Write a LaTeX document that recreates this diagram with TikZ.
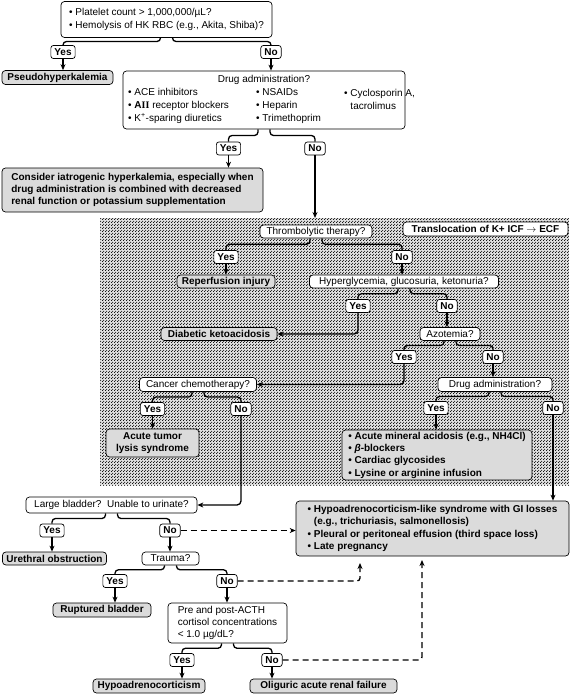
\documentclass[tikz,border=0pt]{standalone}
\usepackage{fontspec}
\setmainfont{Liberation Sans}
\newfontfamily\romanii{Liberation Serif}
\usetikzlibrary{arrows.meta,patterns,calc}
\pgfdeclarepatternformonly{finedots}{\pgfqpoint{0pt}{0pt}}{\pgfqpoint{3pt}{3pt}}{\pgfqpoint{3pt}{3pt}}{%
  \pgfpathcircle{\pgfqpoint{0.75pt}{0.75pt}}{0.68pt}%
  \pgfpathcircle{\pgfqpoint{2.25pt}{2.25pt}}{0.68pt}%
  \pgfusepath{fill}}
\newcommand\brnch[3]{\draw[branch] ([xshift=#3]#1.south) -- ([xshift=#3]$(#1.south)!.5!(#1.south|-#2.north)$) -| (#2.north);}
\newcommand\yarr[2]{\draw[arr] (#1.south) -- (#1.south|-#2.north);}
\begin{document}
\begin{tikzpicture}[x=1pt,y=-1pt,
  every node/.style={font=\fontsize{10}{12.3}\selectfont},
  qbox/.style={draw, line width=0.7pt, rounded corners=3.5pt, fill=white, inner xsep=4pt, inner ysep=1pt, minimum height=14pt},
  res/.style={qbox, fill=black!14, font=\fontsize{10}{12.3}\selectfont\bfseries},
  yn/.style={draw, line width=0.7pt, rounded corners=2.5pt, fill=white, inner xsep=3.5pt, inner ysep=0pt, minimum height=13pt, font=\fontsize{10}{12}\selectfont\bfseries},
  txt/.style={inner sep=0pt, align=left, font=\fontsize{10}{13}\selectfont},
  branch/.style={line width=1.3pt, rounded corners=3.5pt},
  arr/.style={line width=1.3pt, -{Stealth[length=6pt,width=5pt]}},
  dasharr/.style={arr, dash pattern=on 6pt off 4pt},
]
\useasboundingbox (0,0) rectangle (570,694);
\fill[black!12] (100,218) rectangle (569,485);
\fill[pattern=finedots] (100,218) rectangle (569,485);

% nodes
\node[qbox, minimum width=211pt, minimum height=36pt, align=left, font=\fontsize{10}{13}\selectfont] (q1) at (166.5,19.5) {\textbullet\ Platelet count > 1,000,000/µL?\\\textbullet\ Hemolysis of HK RBC (e.g., Akita, Shiba)?};
\node[yn] (y1) at (63,52) {Yes};
\node[yn] (n1) at (271,52) {No};
\node[res, minimum width=111pt, minimum height=14pt] (pseudo) at (57.5,77.5) {Pseudohyperkalemia};
\node[qbox, minimum width=282pt, minimum height=58pt] (drug) at (264,100) {};
\node[txt] (dt) at (264,80) {Drug administration?};
\node[txt, anchor=west] (dc1) at (128,106) {\textbullet\ ACE inhibitors\\\textbullet\ \textbf{A}{\romanii\bfseries II} receptor blockers\\\textbullet\ K\textsuperscript{+}-sparing diuretics};
\node[txt, anchor=west] (dc2) at (256,106) {\textbullet\ NSAIDs\\\textbullet\ Heparin\\\textbullet\ Trimethoprim};
\node[txt, anchor=west] (dc3) at (344,99.5) {\textbullet\ Cyclosporin A,\\\phantom{\textbullet\ }tacrolimus};
\node[yn] (y2) at (228.5,148.5) {Yes};
\node[yn] (n2) at (315,148.5) {No};
\node[res, minimum width=261pt, minimum height=44pt, align=left] (cons) at (132.5,190) {Consider iatrogenic hyperkalemia, especially when\\drug administration is combined with decreased\\renal function or potassium supplementation};
\coordinate (stop) at (315,218);

\node[qbox, minimum width=112pt, minimum height=13pt] (thr) at (316,231.5) {Thrombolytic therapy?};
\node[res, fill=white, minimum width=165pt] (trans) at (485.5,229) {Translocation of K+ ICF $\rightarrow$ ECF};
\node[yn] (y3) at (226,257) {Yes};
\node[yn] (n3) at (402,257) {No};
\node[res, minimum width=98pt, minimum height=13pt] (rep) at (226,281.5) {Reperfusion injury};
\node[qbox, minimum width=189pt, minimum height=13pt] (hyp) at (404,281.5) {Hyperglycemia, glucosuria, ketonuria?};
\node[yn] (y4) at (358,306) {Yes};
\node[yn] (n4) at (447,306) {No};
\node[res, minimum width=116pt, minimum height=13pt] (diab) at (219,334) {Diabetic ketoacidosis};
\node[qbox, minimum width=60pt, minimum height=13pt] (azo) at (450,334) {Azotemia?};
\node[yn] (y5) at (404,357) {Yes};
\node[yn] (n5) at (493,357) {No};
\node[qbox, minimum width=117pt] (canc) at (198,384.5) {Cancer chemotherapy?};
\node[qbox, minimum width=114pt] (drug2) at (495,384.5) {Drug administration?};
\node[yn] (y6) at (152.5,409) {Yes};
\node[yn] (n6) at (241,409) {No};
\node[res, minimum width=93pt, minimum height=28pt, align=center] (tumor) at (152.5,443) {Acute tumor\\lysis syndrome};
\node[yn] (y7) at (436,408) {Yes};
\node[yn] (n7) at (553,408) {No};
\node[res, minimum width=190pt, minimum height=50pt, align=left] (acid) at (437,455) {\textbullet\ Acute mineral acidosis (e.g., NH4Cl)\\\textbullet\ \textit{β}-blockers\\\textbullet\ Cardiac glycosides\\\textbullet\ Lysine or arginine infusion};

\node[res, minimum width=273pt, minimum height=55pt, align=left] (gi) at (432.5,528.5) {\textbullet\ Hypoadrenocorticism-like syndrome with GI losses\\\phantom{\textbullet\ }(e.g., trichuriasis, salmonellosis)\\\textbullet\ Pleural or peritoneal effusion (third space loss)\\\textbullet\ Late pregnancy};
\node[qbox, minimum width=171pt, minimum height=16pt] (blad) at (111.5,505) {Large bladder?~~Unable to urinate?};
\node[yn] (y8) at (52,530.5) {Yes};
\node[yn] (n8) at (170,530.5) {No};
\node[res, minimum width=103pt, minimum height=13pt] (ureth) at (54.5,558.5) {Urethral obstruction};
\node[qbox, minimum width=57pt, minimum height=13pt] (trau) at (170.5,558.5) {Trauma?};
\node[yn] (y9) at (115,581) {Yes};
\node[yn] (n9) at (227,581) {No};
\node[res, minimum width=98pt] (rupt) at (102,610) {Ruptured bladder};
\node[qbox, minimum width=119pt, minimum height=40pt, align=left] (acth) at (227.5,623) {Pre and post-ACTH\\cortisol concentrations\\< 1.0 µg/dL?};
\node[yn] (y10) at (182,660) {Yes};
\node[yn] (n10) at (272,660) {No};
\node[res, minimum width=112pt] (hadr) at (149,686) {Hypoadrenocorticism};
\node[res, minimum width=147pt] (olig) at (323.5,686) {Oliguric acute renal failure};
\coordinate (h1) at (360,563);
\coordinate (h2) at (422,560);

% connectors
\brnch{q1}{y1}{-6pt}\brnch{q1}{n1}{6pt}
\yarr{y1}{pseudo}\yarr{n1}{drug}
\brnch{drug}{y2}{-6pt}\brnch{drug}{n2}{6pt}
\yarr{y2}{cons}
\draw[arr] (n2.south) -- (n2.south|-stop);
\brnch{thr}{y3}{-6pt}\brnch{thr}{n3}{6pt}
\yarr{y3}{rep}\yarr{n3}{hyp}
\brnch{hyp}{y4}{-6pt}\brnch{hyp}{n4}{6pt}
\draw[arr, rounded corners=4pt] (y4.south) |- (diab.east);
\yarr{n4}{azo}
\brnch{azo}{y5}{-6pt}\brnch{azo}{n5}{6pt}
\draw[arr, rounded corners=4pt] (y5.south) |- (canc.east);
\yarr{n5}{drug2}
\brnch{canc}{y6}{-6pt}\brnch{canc}{n6}{6pt}
\yarr{y6}{tumor}
\draw[arr, rounded corners=4pt] (n6.south) |- (blad.east);
\brnch{drug2}{y7}{-6pt}\brnch{drug2}{n7}{6pt}
\yarr{y7}{acid}
\yarr{n7}{gi}
\brnch{blad}{y8}{-6pt}\brnch{blad}{n8}{6pt}
\yarr{y8}{ureth}\yarr{n8}{trau}
\draw[dasharr] (n8.east) -- (n8.east-|gi.west);
\brnch{trau}{y9}{-6pt}\brnch{trau}{n9}{6pt}
\yarr{y9}{rupt}\yarr{n9}{acth}
\draw[dasharr, rounded corners=3pt] (n9.east) -| (h1);
\brnch{acth}{y10}{-6pt}\brnch{acth}{n10}{6pt}
\yarr{y10}{hadr}\yarr{n10}{olig}
\draw[dasharr, rounded corners=3pt] (n10.east) -| (h2);
\end{tikzpicture}
\end{document}
